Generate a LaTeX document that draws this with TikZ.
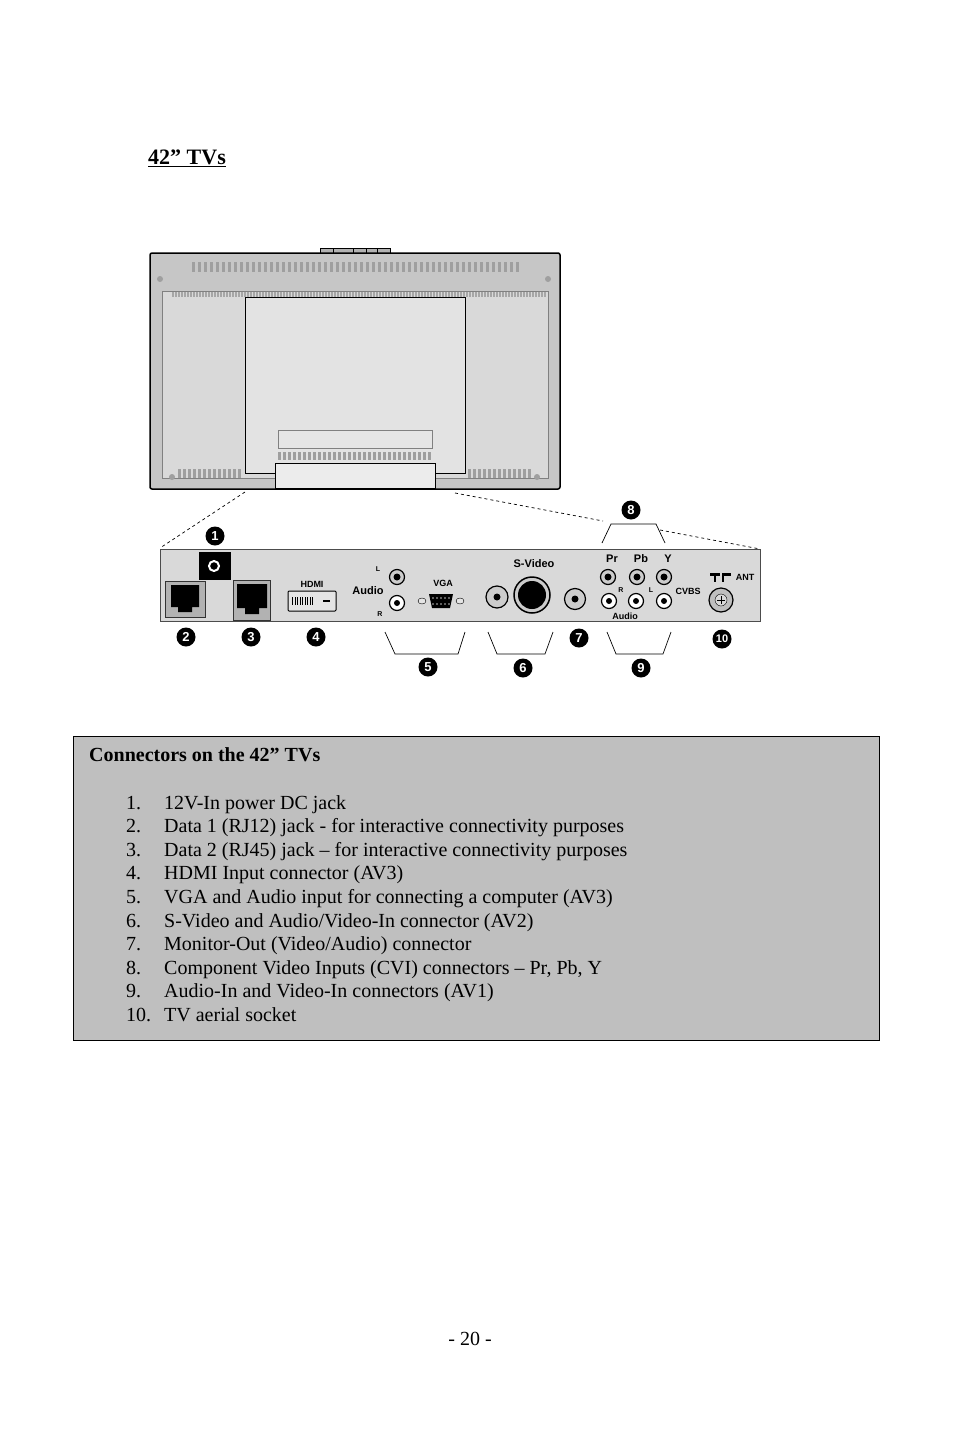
\documentclass[tikz,border=0pt]{standalone}
\usepackage{fontspec}
\setmainfont{Liberation Serif}
\setsansfont{Liberation Sans}
\begin{document}
\begin{tikzpicture}[x=1pt,y=-1pt,
 num/.style={circle,fill=black,text=white,inner sep=0pt,minimum size=19pt,font=\sffamily\bfseries\fontsize{13}{13}\selectfont},
 lab/.style={font=\sffamily\bfseries\fontsize{9}{9}\selectfont,inner sep=0pt},
 bracket/.style={draw=black,line width=0.7pt},
 item/.style={anchor=base west,inner sep=0pt,font=\fontsize{20}{20}\selectfont},
 rca/.style={circle,draw=black,line width=1.2pt,fill=gray!40,minimum size=15pt,inner sep=0pt,path picture={\fill[black](path picture bounding box.center) circle (3.5pt);}},
 rcaw/.style={circle,draw=black,line width=1.2pt,fill=white,minimum size=15pt,inner sep=0pt,path picture={\fill[black](path picture bounding box.center) circle (3pt);}},
 vent/.style={fill=gray!70}]
\useasboundingbox (0,0) rectangle (954,1429);
\fill[white](0,0) rectangle (954,1429);
% title
\node[anchor=base west,inner sep=0pt,font=\bfseries\fontsize{22}{22}\selectfont] (title) at (148,164) {\underline{42” TVs}};
% TV back
\fill[gray!60,draw=black](320,248) rectangle (390,254);
\draw[black](333,248)--(333,254)(353,248)--(353,254)(366,248)--(366,254)(377,248)--(377,254);
\draw[black,line width=1.5pt,fill=gray!45,rounded corners=2pt] (150,253) rectangle (560,489);
\fill[gray!30,draw=gray](162,291) rectangle (548,478);
\foreach \x in {192,198,...,520}{\fill[gray!75](\x,262) rectangle ++(3,10);}
\foreach \x in {172,175,...,545}{\fill[gray!70](\x,292) rectangle ++(1.8,5);}
\fill[gray!75](160,279) circle (3); \fill[gray!75](548,279) circle (3);
\fill[gray!75](172,477) circle (3); \fill[gray!75](537,477) circle (3);
\fill[gray!22,draw=black,line width=0.8pt](245,297) rectangle (465,473);
\draw[gray,fill=gray!20](278,430) rectangle (432,448);
\foreach \x in {278,283,...,430}{\fill[gray!75](\x,452) rectangle ++(3,8);}
\fill[gray!15,draw=black,line width=0.8pt](275,463) rectangle (435,488);
\foreach \x in {178,183,...,240}{\fill[gray!75](\x,469) rectangle ++(2.5,9);}
\foreach \x in {468,473,...,532}{\fill[gray!75](\x,469) rectangle ++(2.5,9);}
% dashed zoom lines
\draw[dashed,line width=0.7pt](245,492) -- (160,548);
\draw[dashed,line width=0.7pt](455,493) -- (603,521);
\draw[dashed,line width=0.7pt](660,530) -- (760,549);
% panel
\draw[gray!60!black,line width=1pt,fill=gray!30](160,549) rectangle (760,621);
% 1 dc jack
\fill[black](199,552) rectangle (231,580);
\draw[white,line width=2pt](214,566) circle (5);
% RJ12 / RJ45
\fill[gray!60,draw=gray!40!black](165,581) rectangle (205,617);
\fill[black](171,585) -- (199,585) -- (199,607) -- (192,607) -- (192,612) -- (178,612) -- (178,607) -- (171,607) -- cycle;
\fill[gray!60,draw=gray!40!black](233,580) rectangle (270,620);
\fill[black](237,584) -- (267,584) -- (267,608) -- (259,608) -- (259,614) -- (245,614) -- (245,608) -- (237,608) -- cycle;
% HDMI
\node[lab] (lhdmi) at (312,584) {HDMI};
\draw[black,line width=1pt,fill=gray!20,rounded corners=1pt](288,591) rectangle (336,611);
\foreach \x in {292,294.5,...,314}{\fill[black](\x,597) rectangle ++(1.4,8);}
\fill[black](323,600) rectangle (330,602);
% Audio / VGA
\node[lab,font=\sffamily\bfseries\fontsize{11}{11}\selectfont] (laudio) at (368,591) {Audio};
\node[lab,font=\sffamily\bfseries\fontsize{7}{7}\selectfont] (lL) at (378,569) {L};
\node[lab,font=\sffamily\bfseries\fontsize{7}{7}\selectfont] (lR) at (380,614) {R};
\node[rca] (aL) at (397,577) {};
\node[rcaw] (aR) at (397,603) {};
\node[lab] (lvga) at (443,583) {VGA};
\draw[black,fill=gray!20](422,601) ellipse (4 and 3);
\draw[black,fill=gray!20](460,601) ellipse (4 and 3);
\fill[black](429,594) -- (453,594) -- (450,608) -- (432,608) -- cycle;
\foreach \x in {433,437,...,449}{\fill[gray!50](\x,598) circle (0.8); \fill[gray!50](\x,604) circle (0.8);}
% S-Video
\node[rca,minimum size=22pt] (cv6) at (497,597) {};
\node[lab,font=\sffamily\bfseries\fontsize{11}{11}\selectfont] (lsv) at (534,564) {S-Video};
\draw[black,line width=1.5pt,fill=gray!40](532,595) circle (18);
\fill[black](532,595) circle (14);
\node[rca,minimum size=21pt] (mo7) at (575,599) {};
% component
\node[lab,font=\sffamily\bfseries\fontsize{11}{11}\selectfont] (lpr) at (612,559) {Pr};
\node[lab,font=\sffamily\bfseries\fontsize{11}{11}\selectfont] (lpb) at (641,559) {Pb};
\node[lab,font=\sffamily\bfseries\fontsize{11}{11}\selectfont] (ly) at (668,559) {Y};
\node[rca] (cpr) at (608,577) {};
\node[rca] (cpb) at (637,577) {};
\node[rca] (cy) at (664,577) {};
\node[rcaw] (car) at (609,601) {};
\node[rcaw] (cal) at (636,601) {};
\node[rcaw] (ccv) at (664,601) {};
\node[lab,font=\sffamily\bfseries\fontsize{7}{7}\selectfont] (lr2) at (621,590) {R};
\node[lab,font=\sffamily\bfseries\fontsize{7}{7}\selectfont] (ll2) at (651,590) {L};
\node[lab] (lcvbs) at (688,591) {CVBS};
\node[lab] (laud2) at (625,616) {Audio};
% antenna
\fill[black](710,573) rectangle (720,576);\fill[black](714,573) rectangle (716,582);
\fill[black](722,573) rectangle (731,576);\fill[black](722,573) rectangle (724,582);
\node[lab] (lant) at (745,577) {ANT};
\draw[black,line width=1.2pt,fill=gray!50](721,600) circle (12);
\draw[black,fill=gray!30](721,600) circle (6);
\draw[black](717,600)--(725,600)(721,596)--(721,604);
% numbers
\node[num] (n1) at (215,536) {1};
\node[num] (n2) at (186,637) {2};
\node[num] (n3) at (251,637) {3};
\node[num] (n4) at (316,637) {4};
\node[num] (n5) at (428,667) {5};
\node[num] (n6) at (523,668) {6};
\node[num] (n7) at (579,638) {7};
\node[num] (n8) at (631,510) {8};
\node[num] (n9) at (641,668) {9};
\node[num,font=\sffamily\bfseries\fontsize{11}{11}\selectfont] (n10) at (722,639) {10};
% brackets
\draw[bracket](385,632)--(395,654)--(458,654)--(465,632);
\draw[bracket](488,632)--(497,654)--(545,654)--(553,632);
\draw[bracket](607,632)--(616,654)--(663,654)--(671,632);
\draw[bracket](602,543)--(611,524)--(656,524)--(665,543);
% table
\draw[black,line width=0.8pt,fill=gray!50](73,736) rectangle (879,1040);
\node[item,font=\bfseries\fontsize{20}{20}\selectfont] (thead) at (89,761) {Connectors on the 42” TVs};
\foreach \n/\t [count=\i from 0] in {1./{12V-In power DC jack},
 2./{Data 1 (RJ12) jack - for interactive connectivity purposes},
 3./{Data 2 (RJ45) jack – for interactive connectivity purposes},
 4./{HDMI Input connector (AV3)},
 5./{VGA and Audio input for connecting a computer (AV3)},
 6./{S-Video and Audio/Video-In connector (AV2)},
 7./{Monitor-Out (Video/Audio) connector},
 8./{Component Video Inputs (CVI) connectors – Pr, Pb, Y},
 9./{Audio-In and Video-In connectors (AV1)},
 10./{TV aerial socket}}{
 \node[item] (num\i) at (126,809+23.6*\i) {\n};
 \node[item] (txt\i) at (164,809+23.6*\i) {\t};
}
\node[inner sep=0pt,font=\fontsize{20}{20}\selectfont] (page) at (470,1339) {- 20 -};
\end{tikzpicture}
\end{document}
